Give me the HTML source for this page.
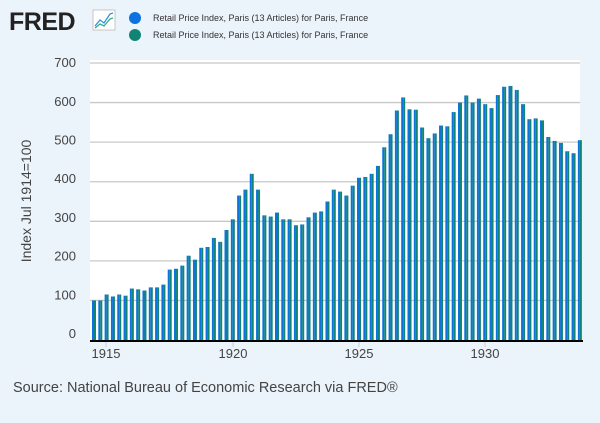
<!DOCTYPE html>
<html><head><meta charset="utf-8"><style>
body{margin:0;background:#ebf3fb;font-family:"Liberation Sans",sans-serif;}
</style></head><body>
<svg id="s" width="600" height="423" xmlns="http://www.w3.org/2000/svg" style="display:block">
<rect width="600" height="423" fill="#ebf3fb"/>
<text x="9" y="30" font-size="25" font-weight="bold" fill="#222" font-family="Liberation Sans,sans-serif" letter-spacing="-0.5">FRED</text>
<rect x="93" y="10" width="22" height="20" fill="#fff" stroke="#bbb" stroke-width="0.8"/>
<polyline points="95,26 100,20 104,23 110,14 113,13" fill="none" stroke="#3b8fd8" stroke-width="1.3"/>
<polyline points="95,28 100,24 104,26 110,19 113,18" fill="none" stroke="#2ab08a" stroke-width="1.3"/>
<circle cx="135" cy="18" r="6" fill="#0b72e0"/>
<circle cx="135" cy="35" r="6" fill="#118574"/>
<text x="153" y="21" font-size="9" fill="#333">Retail Price Index, Paris (13 Articles) for Paris, France</text>
<text x="153" y="38" font-size="9" fill="#333">Retail Price Index, Paris (13 Articles) for Paris, France</text>
<rect x="90" y="60" width="490" height="282" fill="#fff"/>
<g id="grid"></g>
<g id="bars"></g>
<line x1="90" y1="341" x2="583" y2="341" stroke="#000" stroke-width="2"/>
<g font-size="13" fill="#444" text-anchor="middle">
<text x="106" y="358">1915</text><text x="233" y="358">1920</text><text x="359" y="358">1925</text><text x="485" y="358">1930</text>
</g>
<g stroke="#ccd" stroke-width="1"><line x1="106" y1="342" x2="106" y2="347"/><line x1="233" y1="342" x2="233" y2="347"/><line x1="359" y1="342" x2="359" y2="347"/><line x1="485" y1="342" x2="485" y2="347"/></g>
<text transform="translate(31,201) rotate(-90)" font-size="14" fill="#444" text-anchor="middle">Index Jul 1914=100</text>
<text x="13" y="392" font-size="14.5" fill="#444">Source: National Bureau of Economic Research via FRED®</text>
</svg>
<script>
var v=[100,100,115,110,115,112,130,128,125,133,133,140,178,180,188,213,203,233,235,258,248,278,305,365,380,420,380,315,312,322,305,305,290,292,310,322,325,350,380,375,365,390,410,412,420,440,487,520,580,613,583,582,537,510,522,542,540,576,600,618,600,610,596,586,619,640,642,632,596,558,560,555,513,503,498,477,472,505];
var ns="http://www.w3.org/2000/svg",g=document.getElementById('grid'),b=document.getElementById('bars'),s=document.getElementById('s');
function y(val){return 340-val*0.3957;}
for(var i=0;i<=7;i++){var yy=y(i*100);
 if(i>0){var l=document.createElementNS(ns,'line');l.setAttribute('x1',90);l.setAttribute('x2',580);l.setAttribute('y1',yy);l.setAttribute('y2',yy);l.setAttribute('stroke','#c8c8c8');l.setAttribute('stroke-width','1.3');g.appendChild(l);}
 var t=document.createElementNS(ns,'text');t.setAttribute('x',76);t.setAttribute('y',338-i*38.7);t.setAttribute('font-size','13');t.setAttribute('fill','#444');t.setAttribute('text-anchor','end');t.textContent=i*100;s.appendChild(t);}
for(var i=0;i<v.length;i++){var x=92+i*6.31,yy=y(v[i]);
 var r=document.createElementNS(ns,'rect');r.setAttribute('x',x);r.setAttribute('y',yy);r.setAttribute('width',2);r.setAttribute('height',340-yy);r.setAttribute('fill','#0b72e0');b.appendChild(r);
 r=document.createElementNS(ns,'rect');r.setAttribute('x',x+2);r.setAttribute('y',yy);r.setAttribute('width',2);r.setAttribute('height',340-yy);r.setAttribute('fill','#118574');b.appendChild(r);}
</script>
</body></html>
